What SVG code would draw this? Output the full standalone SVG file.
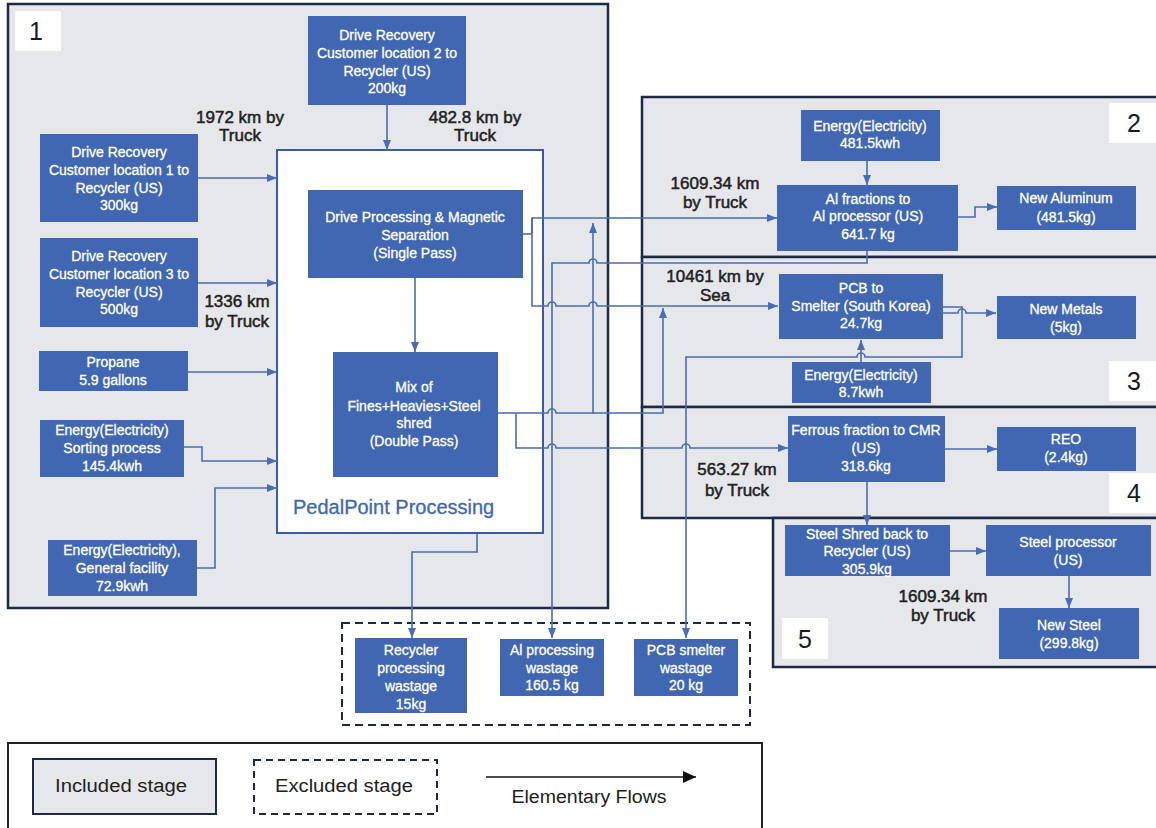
<svg xmlns="http://www.w3.org/2000/svg" width="1156" height="828" viewBox="0 0 1156 828">
  <defs>
    <marker id="arrow" markerUnits="userSpaceOnUse" markerWidth="11" markerHeight="11" refX="10" refY="5" orient="auto">
      <path d="M0 1 L10 5 L0 9 Z" fill="#4a6cb5"/>
    </marker>
    <marker id="arrowBlack" markerUnits="userSpaceOnUse" markerWidth="14" markerHeight="14" refX="13" refY="6" orient="auto">
      <path d="M0 0 L13 6 L0 12 Z" fill="#111"/>
    </marker>
    <style>
      .stage { fill: #e6e7ea; stroke: #1c2a48; stroke-width: 2.5; }
      .tag { fill: #ffffff; }
      .tagtext { font-family: "Liberation Sans", Arial, sans-serif; font-size: 25px; fill: #1a1a1a; text-anchor: middle; }
      .node { fill: #4267b2; }
      .nt { font-family: "Liberation Sans", Arial, sans-serif; font-size: 14px; fill: #ffffff; stroke: #ffffff; stroke-width: 0.3; text-anchor: middle; }
      .dist { font-family: "Liberation Sans", Arial, sans-serif; font-size: 17px; fill: #222; stroke: #222; stroke-width: 0.5; text-anchor: middle; }
      .flow { fill: none; stroke: #4a6cb5; stroke-width: 1.6; marker-end: url(#arrow); }
      .line { fill: none; stroke: #4a6cb5; stroke-width: 1.6; }
      .legend { font-family: "Liberation Sans", Arial, sans-serif; font-size: 18px; fill: #222; text-anchor: middle; }
    </style>
  </defs>

  <rect width="1156" height="828" fill="#ffffff"/>

  <!-- Stage frames -->
  <g id="stage1">
    <rect class="stage" x="8" y="4" width="600" height="604"/>
    <rect class="tag" x="15" y="11" width="46" height="40"/>
    <text class="tagtext" x="36" y="40">1</text>
  </g>
  <g id="stage2">
    <rect class="stage" x="642" y="97" width="530" height="160"/>
    <rect class="tag" x="1109" y="103" width="50" height="40"/>
    <text class="tagtext" x="1134" y="132">2</text>
  </g>
  <g id="stage3">
    <rect class="stage" x="642" y="257" width="530" height="150"/>
    <rect class="tag" x="1109" y="361" width="50" height="40"/>
    <text class="tagtext" x="1134" y="390">3</text>
  </g>
  <g id="stage4">
    <rect class="stage" x="642" y="407" width="530" height="111"/>
    <rect class="tag" x="1109" y="473" width="50" height="40"/>
    <text class="tagtext" x="1134" y="502">4</text>
  </g>
  <g id="stage5">
    <rect class="stage" x="773" y="518" width="400" height="149"/>
    <rect class="tag" x="782" y="618" width="46" height="41"/>
    <text class="tagtext" x="805" y="648">5</text>
  </g>

  <!-- PedalPoint processing container -->
  <g id="pedalpoint">
    <rect x="277" y="150" width="266" height="383" fill="#ffffff" stroke="#3a5ca6" stroke-width="2"/>
    <text x="293" y="514" font-family="Liberation Sans, Arial, sans-serif" font-size="20" fill="#4168b0" stroke="#4168b0" stroke-width="0.3">PedalPoint Processing</text>
  </g>

  <!-- Excluded stage: wastage -->
  <g id="wastage-frame">
    <rect x="342" y="623" width="408" height="102" fill="none" stroke="#1c2a48" stroke-width="2" stroke-dasharray="8 5"/>
  </g>

  <!-- Connectors -->
  <g id="connectors">
    <path class="line" d="M523 234 H532"/>
    <path class="flow" d="M532 234 V218 H777"/>
    <path class="flow" d="M532 218 V306 H548 A4 4 0 0 1 556 306 H589 A4 4 0 0 1 597 306 H778"/>
    <path class="flow" d="M498 413 H548 A4 4 0 0 1 556 413 H593 V223"/>
    <path class="flow" d="M593 413 H663 V308"/>
    <path class="flow" d="M516 413 V448 H548 A4 4 0 0 1 556 448 H682 A4 4 0 0 1 690 448 H788"/>
    <path class="flow" d="M867 251 V263 H597 A4 4 0 0 0 589 263 H552 V638"/>
    <path class="flow" d="M943 307 H962 V357 H865 A4 4 0 0 0 857 357 H686 V638"/>
    <path class="flow" d="M943 313 H958 A4 4 0 0 1 966 313 H996"/>
    <path class="flow" d="M861 362 V340"/>
    <path class="flow" d="M867 161 V185"/>
    <path class="flow" d="M958 217 H975 V207 H997"/>
    <path class="flow" d="M945 449 H997"/>
    <path class="flow" d="M867 482 V525"/>
    <path class="flow" d="M950 551 H986"/>
    <path class="flow" d="M1069 576 V608"/>
    <path class="flow" d="M477 533 V552 H412 V638"/>
    <path class="flow" d="M198 178 H277"/>
    <path class="flow" d="M198 283 H277"/>
    <path class="flow" d="M188 372 H277"/>
    <path class="flow" d="M184 447 H202 V461 H277"/>
    <path class="flow" d="M197 568 H215 V488 H277"/>
    <path class="flow" d="M387 105 V150"/>
    <path class="flow" d="M415 278 V352"/>
  </g>

  <!-- Stage 1 nodes -->
  <g id="drive-recovery-2">
    <rect class="node" x="308" y="16" width="158" height="89"/>
    <text class="nt" x="387" y="40">Drive Recovery</text>
    <text class="nt" x="387" y="58">Customer location 2 to</text>
    <text class="nt" x="387" y="76">Recycler (US)</text>
    <text class="nt" x="387" y="93">200kg</text>
  </g>
  <g id="drive-recovery-1">
    <rect class="node" x="40" y="134" width="158" height="88"/>
    <text class="nt" x="119" y="157">Drive Recovery</text>
    <text class="nt" x="119" y="175">Customer location 1 to</text>
    <text class="nt" x="119" y="193">Recycler (US)</text>
    <text class="nt" x="119" y="210">300kg</text>
  </g>
  <g id="drive-recovery-3">
    <rect class="node" x="40" y="238" width="158" height="89"/>
    <text class="nt" x="119" y="261">Drive Recovery</text>
    <text class="nt" x="119" y="279">Customer location 3 to</text>
    <text class="nt" x="119" y="297">Recycler (US)</text>
    <text class="nt" x="119" y="314">500kg</text>
  </g>
  <g id="propane">
    <rect class="node" x="39" y="351" width="149" height="40"/>
    <text class="nt" x="113" y="367">Propane</text>
    <text class="nt" x="113" y="385">5.9 gallons</text>
  </g>
  <g id="energy-sorting">
    <rect class="node" x="40" y="420" width="144" height="57"/>
    <text class="nt" x="112" y="435">Energy(Electricity)</text>
    <text class="nt" x="112" y="453">Sorting process</text>
    <text class="nt" x="112" y="471">145.4kwh</text>
  </g>
  <g id="energy-facility">
    <rect class="node" x="48" y="540" width="149" height="56"/>
    <text class="nt" x="122" y="555">Energy(Electricity),</text>
    <text class="nt" x="122" y="573">General facility</text>
    <text class="nt" x="122" y="591">72.9kwh</text>
  </g>
  <g id="drive-processing">
    <rect class="node" x="308" y="190" width="215" height="88"/>
    <text class="nt" x="415" y="222">Drive Processing &amp; Magnetic</text>
    <text class="nt" x="415" y="240">Separation</text>
    <text class="nt" x="415" y="258">(Single Pass)</text>
  </g>
  <g id="mix">
    <rect class="node" x="333" y="352" width="165" height="125"/>
    <text class="nt" x="414" y="392">Mix of</text>
    <text class="nt" x="414" y="411">Fines+Heavies+Steel</text>
    <text class="nt" x="414" y="428">shred</text>
    <text class="nt" x="414" y="446">(Double Pass)</text>
  </g>

  <!-- Stage 2 nodes -->
  <g id="energy-al">
    <rect class="node" x="801" y="110" width="139" height="51"/>
    <text class="nt" x="870" y="131">Energy(Electricity)</text>
    <text class="nt" x="870" y="148">481.5kwh</text>
  </g>
  <g id="al-fractions">
    <rect class="node" x="777" y="185" width="181" height="66"/>
    <text class="nt" x="868" y="204">Al fractions to</text>
    <text class="nt" x="868" y="221">Al processor (US)</text>
    <text class="nt" x="868" y="239">641.7 kg</text>
  </g>
  <g id="new-aluminum">
    <rect class="node" x="997" y="186" width="139" height="44"/>
    <text class="nt" x="1066" y="203">New Aluminum</text>
    <text class="nt" x="1066" y="222">(481.5kg)</text>
  </g>

  <!-- Stage 3 nodes -->
  <g id="pcb-smelter">
    <rect class="node" x="779" y="274" width="164" height="65"/>
    <text class="nt" x="861" y="293">PCB to</text>
    <text class="nt" x="861" y="311">Smelter (South Korea)</text>
    <text class="nt" x="861" y="328">24.7kg</text>
  </g>
  <g id="new-metals">
    <rect class="node" x="997" y="296" width="139" height="43"/>
    <text class="nt" x="1066" y="314">New Metals</text>
    <text class="nt" x="1066" y="332">(5kg)</text>
  </g>
  <g id="energy-pcb">
    <rect class="node" x="792" y="362" width="139" height="41"/>
    <text class="nt" x="861" y="380">Energy(Electricity)</text>
    <text class="nt" x="861" y="397">8.7kwh</text>
  </g>

  <!-- Stage 4 nodes -->
  <g id="ferrous">
    <rect class="node" x="788" y="416" width="157" height="66"/>
    <text class="nt" x="866" y="435">Ferrous fraction to CMR</text>
    <text class="nt" x="866" y="453">(US)</text>
    <text class="nt" x="866" y="471">318.6kg</text>
  </g>
  <g id="reo">
    <rect class="node" x="997" y="427" width="139" height="44"/>
    <text class="nt" x="1066" y="444">REO</text>
    <text class="nt" x="1066" y="462">(2.4kg)</text>
  </g>

  <!-- Stage 5 nodes -->
  <g id="steel-shred">
    <rect class="node" x="785" y="525" width="165" height="51"/>
    <text class="nt" x="867" y="539">Steel Shred back to</text>
    <text class="nt" x="867" y="556">Recycler (US)</text>
    <text class="nt" x="867" y="574">305.9kg</text>
  </g>
  <g id="steel-processor">
    <rect class="node" x="986" y="525" width="165" height="51"/>
    <text class="nt" x="1068" y="547">Steel processor</text>
    <text class="nt" x="1068" y="565">(US)</text>
  </g>
  <g id="new-steel">
    <rect class="node" x="999" y="608" width="140" height="51"/>
    <text class="nt" x="1069" y="630">New Steel</text>
    <text class="nt" x="1069" y="648">(299.8kg)</text>
  </g>

  <!-- Wastage nodes -->
  <g id="recycler-wastage">
    <rect class="node" x="355" y="638" width="112" height="75"/>
    <text class="nt" x="411" y="655">Recycler</text>
    <text class="nt" x="411" y="673">processing</text>
    <text class="nt" x="411" y="691">wastage</text>
    <text class="nt" x="411" y="709">15kg</text>
  </g>
  <g id="al-wastage">
    <rect class="node" x="500" y="639" width="104" height="57"/>
    <text class="nt" x="552" y="655">Al processing</text>
    <text class="nt" x="552" y="673">wastage</text>
    <text class="nt" x="552" y="690">160.5 kg</text>
  </g>
  <g id="pcb-wastage">
    <rect class="node" x="634" y="639" width="104" height="57"/>
    <text class="nt" x="686" y="655">PCB smelter</text>
    <text class="nt" x="686" y="673">wastage</text>
    <text class="nt" x="686" y="690">20 kg</text>
  </g>

  <!-- Transport distances -->
  <g id="distances">
    <text class="dist" x="240" y="123">1972 km by</text>
    <text class="dist" x="240" y="141">Truck</text>
    <text class="dist" x="475" y="123">482.8 km by</text>
    <text class="dist" x="475" y="141">Truck</text>
    <text class="dist" x="237" y="307">1336 km</text>
    <text class="dist" x="237" y="327">by Truck</text>
    <text class="dist" x="715" y="189">1609.34 km</text>
    <text class="dist" x="715" y="208">by Truck</text>
    <text class="dist" x="715" y="282">10461 km by</text>
    <text class="dist" x="715" y="301">Sea</text>
    <text class="dist" x="737" y="475">563.27 km</text>
    <text class="dist" x="737" y="496">by Truck</text>
    <text class="dist" x="943" y="602">1609.34 km</text>
    <text class="dist" x="943" y="621">by Truck</text>
  </g>

  <!-- Legend -->
  <g id="legend">
    <rect x="8" y="743" width="754" height="90" fill="#ffffff" stroke="#222" stroke-width="2"/>
    <rect x="33" y="759" width="183" height="55" fill="#e6e7ea" stroke="#1c2a48" stroke-width="2"/>
    <text class="legend" x="121" y="792" textLength="132" lengthAdjust="spacingAndGlyphs">Included stage</text>
    <rect x="254" y="760" width="183" height="54" fill="none" stroke="#1c2a48" stroke-width="2" stroke-dasharray="7 5"/>
    <text class="legend" x="344" y="792" textLength="138" lengthAdjust="spacingAndGlyphs">Excluded stage</text>
    <path d="M486 777 H696" stroke="#111" stroke-width="1.5" fill="none" marker-end="url(#arrowBlack)"/>
    <text class="legend" x="589" y="803" textLength="155" lengthAdjust="spacingAndGlyphs">Elementary Flows</text>
  </g>
</svg>
